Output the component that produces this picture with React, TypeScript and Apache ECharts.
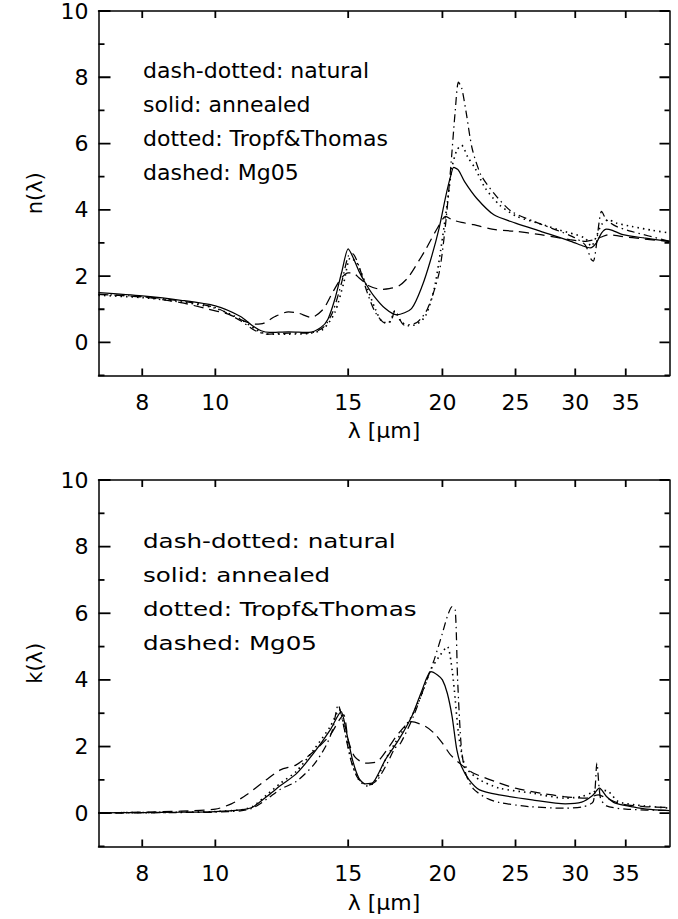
import React, { useEffect, useRef } from "react";
import * as echarts from "echarts";

// ---------- axis ticks / labels ----------
const xTickValues = [8, 10, 15, 20, 25, 30, 35];
const yLabelValues = [0, 2, 4, 6, 8, 10];
const yTickValues = [-1, 0, 1, 2, 3, 4, 5, 6, 7, 8, 9, 10];
const xMinLam = 7;
const xMaxLam = 40;
const yMin = -1;
const yMax = 10;
const legendLines = [
  "dash-dotted: natural",
  "solid: annealed",
  "dotted: Tropf&Thomas",
  "dashed: Mg05",
];
const xTitle = "\u03bb [\u03bcm]";
const nTitle = "n(\u03bb)";
const kTitle = "k(\u03bb)";

// ---------- top panel: n(lambda) ----------
const nAnnealedLam = [7, 8, 9, 10, 10.8, 11.2, 11.5, 11.8, 12.5, 13.3, 13.8, 14.1, 14.4, 14.7, 15.0, 15.2, 15.5, 15.8, 16.2, 16.8, 17.4, 18.2, 18.8, 19.3, 19.8, 20.2, 20.5, 20.7, 21.0, 21.4, 22.2, 23.4, 25.0, 27.0, 29.6, 30.8, 31.4, 32.0, 32.5, 33.0, 33.6, 34.7, 37.0, 40];
const nAnnealedVal = [1.5, 1.4, 1.27, 1.1, 0.78, 0.5, 0.35, 0.3, 0.32, 0.3, 0.45, 0.7, 1.3, 2.1, 2.82, 2.6, 2.15, 1.8, 1.42, 1.02, 0.83, 1.02, 1.7, 2.5, 3.45, 4.4, 5.0, 5.28, 5.2, 4.85, 4.35, 3.85, 3.6, 3.35, 3.05, 2.9, 2.85, 3.0, 3.3, 3.42, 3.38, 3.25, 3.15, 3.05];

const nNaturalLam = [7, 8, 9, 10, 10.8, 11.3, 11.7, 12.5, 13.3, 13.9, 14.3, 14.7, 15.0, 15.2, 15.5, 15.9, 16.3, 16.8, 17.1, 17.3, 17.8, 18.5, 19.1, 19.8, 20.2, 20.5, 20.8, 21.0, 21.2, 21.5, 21.9, 22.5, 23.5, 24.7, 26.8, 29.7, 30.9, 31.5, 31.7, 32.3, 32.5, 33.0, 34.0, 35.6, 40];
const nNaturalVal = [1.45, 1.38, 1.25, 1.05, 0.65, 0.35, 0.25, 0.28, 0.28, 0.45, 0.9, 1.8, 2.6, 2.68, 2.3, 1.5, 0.9, 0.58, 0.65, 0.95, 0.52, 0.6, 1.0, 2.1, 3.6, 5.2, 7.0, 7.85, 7.7, 6.95, 5.85, 5.05, 4.45, 3.95, 3.6, 3.2, 2.95, 2.5, 2.45, 3.7, 3.95, 3.7, 3.5, 3.35, 3.05];

const nTropfLam = [7, 8, 9, 10, 10.8, 11.3, 11.7, 12.5, 13.3, 13.9, 14.4, 14.8, 15.1, 15.4, 15.8, 16.3, 16.7, 17.0, 17.3, 17.6, 18.0, 18.5, 19.0, 19.5, 19.9, 20.3, 20.6, 20.9, 21.2, 21.6, 22.1, 22.8, 23.8, 25.1, 26.8, 28.5, 30.9, 31.5, 32.0, 32.5, 33.2, 34.0, 35.6, 38, 40];
const nTropfVal = [1.42, 1.35, 1.22, 1.03, 0.7, 0.4, 0.25, 0.25, 0.27, 0.4, 0.9, 1.8, 2.55, 2.4, 1.8, 1.0, 0.6, 0.6, 0.95, 0.65, 0.5, 0.55, 0.8, 1.6, 2.8, 4.2, 5.3, 5.8, 5.95, 5.6, 5.25, 4.65, 4.15, 3.8, 3.6, 3.4, 3.15, 2.9, 3.2, 3.55, 3.7, 3.6, 3.5, 3.38, 3.3];

const nMg05Lam = [7, 8, 9, 9.8, 10.4, 10.9, 11.3, 11.6, 12.0, 12.5, 12.9, 13.4, 13.9, 14.3, 14.7, 15.0, 15.2, 15.5, 16.0, 16.6, 17.0, 17.5, 18.0, 18.6, 19.0, 19.7, 20.2, 20.6, 21.2, 22.0, 23.5, 25.0, 27.0, 29.5, 31.0, 31.8, 32.5, 33.2, 34.5, 37, 40];
const nMg05Val = [1.45, 1.37, 1.2, 1.0, 0.85, 0.65, 0.55, 0.58, 0.78, 0.92, 0.88, 0.75, 1.0, 1.5, 1.95, 2.1, 2.1, 1.95, 1.7, 1.6, 1.62, 1.7, 1.95, 2.45, 2.8, 3.45, 3.8, 3.7, 3.62, 3.55, 3.4, 3.35, 3.25, 3.1, 3.05, 3.1, 3.18, 3.25, 3.2, 3.12, 3.05];

// ---------- bottom panel: k(lambda) ----------
const kAnnealedLam = [7, 8, 9, 10, 10.8, 11.2, 11.7, 12.2, 12.8, 13.5, 14.2, 14.68, 14.9, 15.2, 15.5, 15.8, 16.2, 16.8, 17.5, 18.25, 18.8, 19.3, 19.7, 20.0, 20.3, 20.6, 20.9, 21.2, 21.7, 22.4, 23.8, 26.3, 29.1, 30.6, 31.6, 32.3, 33.0, 33.9, 35.6, 37.3, 40];
const kAnnealedVal = [0.01, 0.02, 0.03, 0.05, 0.1, 0.18, 0.5, 0.83, 1.18, 1.8, 2.5, 3.05, 2.5, 1.6, 1.05, 0.88, 0.93, 1.6, 2.2, 2.95, 3.7, 4.25, 4.15, 4.0, 3.6, 2.9, 1.9, 1.4, 1.0, 0.7, 0.55, 0.4, 0.28, 0.33, 0.52, 0.75, 0.5, 0.3, 0.2, 0.12, 0.08];

const kNaturalLam = [7, 8, 9, 10, 10.8, 11.2, 11.7, 12.2, 12.8, 13.5, 14.0, 14.3, 14.55, 14.8, 15.1, 15.4, 15.7, 16.0, 16.4, 16.9, 17.3, 17.6, 18.3, 19.0, 19.5, 20.0, 20.3, 20.6, 20.8, 20.95, 21.2, 21.5, 22.0, 22.9, 23.8, 26.0, 29.0, 30.8, 31.7, 32.05, 32.4, 33.0, 35, 40];
const kNaturalVal = [0.0, 0.01, 0.02, 0.03, 0.07, 0.15, 0.42, 0.72, 0.95, 1.45, 2.0, 2.5, 3.25, 2.6, 1.65, 1.1, 0.9, 0.85, 1.0, 1.5, 1.95, 2.1, 2.9, 3.9, 4.6, 5.4, 5.9, 6.2, 6.1, 4.0, 1.9, 1.15, 0.72, 0.45, 0.32, 0.2, 0.15, 0.2, 0.35, 1.5, 0.45, 0.22, 0.12, 0.08];

const kTropfLam = [7, 8, 9, 10, 10.8, 11.2, 11.7, 12.2, 12.8, 13.5, 14.2, 14.6, 14.9, 15.2, 15.5, 15.9, 16.3, 16.8, 17.3, 17.8, 18.3, 18.8, 19.3, 19.8, 20.3, 20.6, 20.8, 21.0, 21.3, 21.6, 22.4, 23.8, 26.3, 29.1, 30.6, 31.6, 32.3, 33.2, 34.2, 36, 40];
const kTropfVal = [0.01, 0.02, 0.03, 0.05, 0.1, 0.2, 0.55, 0.9, 1.25, 1.9, 2.6, 3.1, 2.3, 1.45, 1.0, 0.82, 0.95, 1.6, 2.1, 2.55, 3.0, 3.6, 4.3, 4.7, 5.0, 4.3, 3.4, 2.4, 1.6, 1.3, 1.0, 0.75, 0.6, 0.45, 0.5, 0.62, 0.7, 0.65, 0.35, 0.25, 0.15];

const kMg05Lam = [7, 8, 9, 10, 10.5, 11.0, 11.6, 12.2, 12.8, 13.5, 14.2, 14.6, 14.8, 15.0, 15.3, 15.8, 16.4, 17.0, 17.5, 18.2, 19.0, 19.5, 20.0, 20.5, 21.2, 22.0, 23.5, 25.0, 27.0, 29.0, 31.0, 32.2, 33.0, 34.5, 37, 40];
const kMg05Val = [0.01, 0.03, 0.06, 0.12, 0.28, 0.55, 0.95, 1.3, 1.45, 1.85, 2.35, 2.8, 2.95, 2.2, 1.7, 1.5, 1.55, 2.0, 2.4, 2.75, 2.6, 2.4, 2.1, 1.75, 1.45, 1.2, 0.95, 0.75, 0.6, 0.5, 0.45, 0.55, 0.45, 0.28, 0.2, 0.17];

const FONT = "DejaVu Sans";
const BLACK = "#000000";
const L = (v: number) => Math.log10(v);
const toData = (lam: number[], val: number[]) => lam.map((l, i) => [L(l), val[i]]);

const CHART_W = 678;
const GRID_LEFT = 98.5;
const GRID_RIGHT = 8.5;
const GRID_H = 366.5;
const GRID_W = CHART_W - GRID_LEFT - GRID_RIGHT;

const DASHDOT = [8, 4, 1.5, 4];
const DOTTED = [1.5, 4];
const DASHED = [10, 6];

const X_PER_PX = (L(xMaxLam) - L(xMinLam)) / GRID_W;
const Y_PER_PX = (yMax - yMin) / GRID_H;

function tickLine(a: number[], b: number[]) {
  return {
    type: "line",
    data: [a, b],
    showSymbol: false,
    symbol: "none",
    silent: true,
    z: 5,
    lineStyle: { color: BLACK, width: 1.8, type: "solid" },
  };
}

type Curve = { lam: number[]; val: number[]; dash: any };

function buildPanel(gridTop: number, yName: string, curves: Curve[], axisNames: boolean, stretchLegend: boolean) {
  const frame = { color: BLACK, width: 1.5 };
  const xv = xTickValues.map(L);
  const series: any[] = curves.map((c) => ({
    type: "line",
    data: toData(c.lam, c.val),
    showSymbol: false,
    symbol: "none",
    smooth: 0.25,
    lineStyle: { color: BLACK, width: c.dash === DOTTED ? 1.6 : 1.25, type: c.dash },
  }));
  const xLen = 7 * Y_PER_PX;
  xv.forEach((x) => {
    series.push(tickLine([x, yMin], [x, yMin + xLen]));
    series.push(tickLine([x, yMax], [x, yMax - xLen]));
  });
  yTickValues.forEach((y) => {
    const major = yLabelValues.indexOf(y) >= 0;
    const ll = (major ? 12 : 6) * X_PER_PX;
    const lr = (major ? 10 : 5) * X_PER_PX;
    series.push(tickLine([L(xMinLam), y], [L(xMinLam) + ll, y]));
    series.push(tickLine([L(xMaxLam), y], [L(xMaxLam) - lr, y]));
  });

  const graphic: any[] = legendLines.map((t, i) => ({
    type: "text",
    x: 143,
    y: gridTop + 61 + i * 34,
    scaleX: stretchLegend ? 1.23 : 1,
    style: {
      text: t,
      fontSize: stretchLegend ? 20 : 22,
      fontFamily: FONT,
      fill: BLACK,
      verticalAlign: "middle",
      align: "left",
    },
  }));
  if (!axisNames) {
    graphic.push({
      type: "text",
      x: 35,
      y: gridTop + GRID_H / 2,
      rotation: Math.PI / 2,
      style: { text: yName, fontSize: 21, fontFamily: FONT, fill: BLACK, align: "center", verticalAlign: "middle" },
    });
    graphic.push({
      type: "text",
      x: GRID_LEFT + GRID_W / 2,
      y: gridTop + GRID_H + 56,
      style: { text: xTitle, fontSize: 22, fontFamily: FONT, fill: BLACK, align: "center", verticalAlign: "middle" },
    });
  }

  const xAxis: any[] = [
    {
      type: "value",
      position: "bottom",
      min: L(xMinLam),
      max: L(xMaxLam),
      axisLine: { show: true, onZero: false, lineStyle: frame },
      axisTick: { show: false },
      axisLabel: {
        show: true,
        customValues: xv,
        formatter: (v: number) => String(Math.round(Math.pow(10, v))),
        margin: 16,
        fontSize: 22,
        fontFamily: FONT,
        color: BLACK,
      },
      splitLine: { show: false },
      ...(axisNames
        ? { name: xTitle, nameLocation: "middle", nameGap: 44, nameTextStyle: { fontSize: 22, fontFamily: FONT, color: BLACK } }
        : {}),
    },
    {
      type: "value",
      position: "top",
      min: L(xMinLam),
      max: L(xMaxLam),
      axisLine: { show: true, onZero: false, lineStyle: frame },
      axisTick: { show: false },
      axisLabel: { show: false },
      splitLine: { show: false },
    },
  ];
  const yAxis: any[] = [
    {
      type: "value",
      position: "left",
      min: yMin,
      max: yMax,
      axisLine: { show: true, onZero: false, lineStyle: frame },
      axisTick: { show: false },
      axisLabel: { show: true, customValues: yLabelValues, margin: 10, fontSize: 22, fontFamily: FONT, color: BLACK },
      splitLine: { show: false },
      ...(axisNames
        ? { name: yName, nameLocation: "middle", nameGap: 53, nameTextStyle: { fontSize: 21, fontFamily: FONT, color: BLACK } }
        : {}),
    },
    {
      type: "value",
      position: "right",
      min: yMin,
      max: yMax,
      axisLine: { show: true, onZero: false, lineStyle: frame },
      axisTick: { show: false },
      axisLabel: { show: false },
      splitLine: { show: false },
    },
  ];

  return {
    animation: false,
    backgroundColor: "#ffffff",
    grid: { left: GRID_LEFT, right: GRID_RIGHT, top: gridTop, height: GRID_H },
    xAxis,
    yAxis,
    series,
    graphic,
  };
}

function Panel(props: { top: number; height: number; option: any }) {
  const ref = useRef<HTMLDivElement>(null);
  useEffect(() => {
    if (!ref.current) return;
    const chart = echarts.init(ref.current, undefined, { renderer: "svg" });
    chart.setOption(props.option);
    return () => chart.dispose();
  }, []);
  return (
    <div
      ref={ref}
      style={{ position: "absolute", left: 0, top: props.top, width: CHART_W, height: props.height, background: "#fff" }}
    />
  );
}

export default function App() {
  const topOption = buildPanel(
    9,
    nTitle,
    [
      { lam: nNaturalLam, val: nNaturalVal, dash: DASHDOT },
      { lam: nAnnealedLam, val: nAnnealedVal, dash: "solid" },
      { lam: nTropfLam, val: nTropfVal, dash: DOTTED },
      { lam: nMg05Lam, val: nMg05Val, dash: DASHED },
    ],
    true,
    false
  );
  const bottomOption = buildPanel(
    20,
    kTitle,
    [
      { lam: kNaturalLam, val: kNaturalVal, dash: DASHDOT },
      { lam: kAnnealedLam, val: kAnnealedVal, dash: "solid" },
      { lam: kTropfLam, val: kTropfVal, dash: DOTTED },
      { lam: kMg05Lam, val: kMg05Val, dash: DASHED },
    ],
    false,
    true
  );
  return (
    <div style={{ position: "absolute", left: 0, top: 0, width: CHART_W, height: 919, background: "#fff" }}>
      <Panel top={0} height={460} option={topOption} />
      <Panel top={460} height={459} option={bottomOption} />
    </div>
  );
}
